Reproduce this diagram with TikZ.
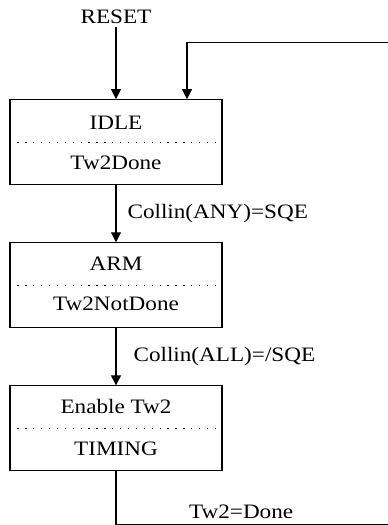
\documentclass[tikz,border=0pt]{standalone}
\usepackage{fontspec}
\setmainfont{Liberation Serif}[FakeStretch=1.13]
\usepackage{tikz}
\usetikzlibrary{arrows.meta,positioning,calc}

\begin{document}
\begin{tikzpicture}[x=1pt,y=1pt,
    font=\fontsize{20.5}{24}\selectfont,
    state/.style={draw,line width=1.1pt,minimum width=212pt,minimum height=85pt,inner sep=0pt},
    txt/.style={inner sep=3pt},
    split/.style={line width=1.3pt,dash pattern=on 1.3pt off 6.6pt},
    flow/.style={line width=1.1pt,-{Triangle[length=10pt,width=10pt]}},
    wire/.style={line width=1.1pt}]
\useasboundingbox (0,0) rectangle (388,-525);

% States
\node[state] (idle) at (116,-142.2) {};
\node[state,below=57pt of idle] (arm) {};
\node[state,below=57pt of arm] (timing) {};

% Dotted splits
\foreach \s in {idle,arm,timing}
    \draw[split] (\s.west) -- ([xshift=-6pt]\s.east);

% State texts
\node[txt] (idletop) at ([yshift=19pt]idle.center) {IDLE};
\node[txt] (idlebot) at ([yshift=-21pt]idle.center) {Tw2Done};
\node[txt] (armtop) at ([yshift=22pt]arm.center) {ARM};
\node[txt] (armbot) at ([yshift=-19pt]arm.center) {Tw2NotDone};
\node[txt] (timingtop) at ([yshift=22pt]timing.center) {Enable Tw2};
\node[txt] (timingbot) at ([yshift=-20pt]timing.center) {TIMING};

% Reset entry
\node[txt,above=72pt of idle] (reset) {RESET};
\draw[flow] (reset.south -| idle.north) -- (idle.north);

% Transitions
\draw[flow] (idle) -- node[txt,right=8pt] {Collin(ANY)=SQE} (arm);
\draw[flow] (arm) -- node[txt,right=14pt] {Collin(ALL)=/SQE} (timing);

% Loop back to IDLE (runs off the right edge)
\coordinate (loopbot) at (388,-524.7);
\coordinate (looptop) at (388,-42.7);
\coordinate (loopin) at ([xshift=71pt]idle.north);
\draw[wire] (timing.south) |- node[txt,above=2pt,pos=0.73] {Tw2=Done} (loopbot);
\draw[flow] (looptop) -| (loopin);
\end{tikzpicture}
\end{document}
